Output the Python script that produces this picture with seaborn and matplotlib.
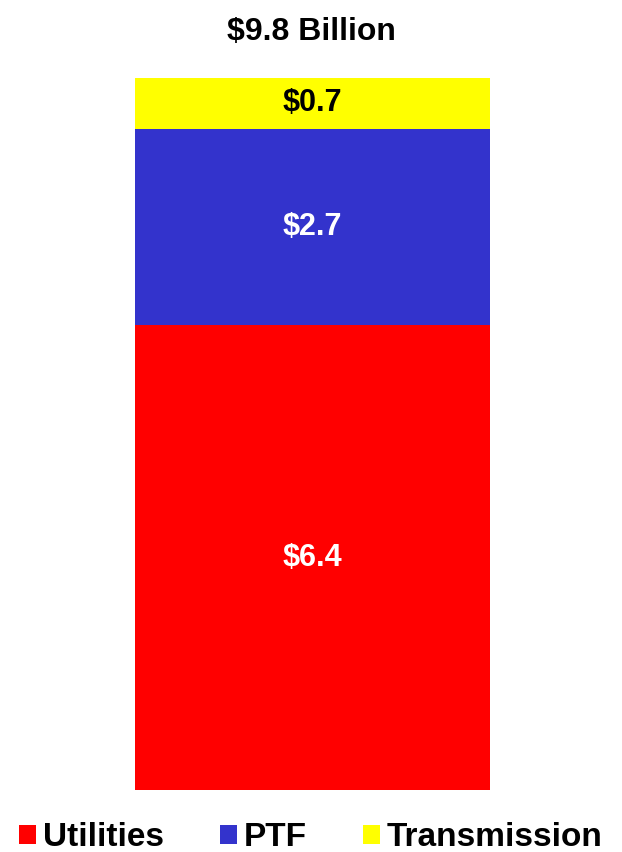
import matplotlib
matplotlib.use("Agg")
import matplotlib.pyplot as plt
import seaborn as sns
import pandas as pd
from matplotlib.patches import Patch

sns.set_theme(style="white")
plt.rcParams['font.family'] = ['Liberation Sans', 'DejaVu Sans']
plt.rcParams['text.color'] = 'black'

segments = ["Utilities", "PTF", "Transmission"]
values = [6.4, 2.7, 0.7]
colors = ["#FF0000", "#3333CC", "#FFFF00"]
label_colors = ["white", "white", "black"]
total_label = "$9.8 Billion"

fig = plt.figure(figsize=(6.22, 8.52), dpi=100)
ax = fig.add_axes([135 / 622, 1 - 790 / 852, 355 / 622, 712 / 852])

bottom = 0.0
for seg, val, col, lc in zip(segments, values, colors, label_colors):
    df = pd.DataFrame({"x": ["total"], "v": [val]})
    sns.barplot(data=df, x="x", y="v", color=col, bottom=bottom, width=1.0,
                ax=ax, saturation=1, linewidth=0)
    ax.text(0, bottom + val / 2, f"\\${val:.1f}", ha="center", va="center",
            color=lc, fontsize=22, fontweight="bold")
    bottom += val

ax.set_xlim(-0.5, 0.5)
ax.set_ylim(0, sum(values))
ax.axis("off")

fig.text(0.5, 1 - 32 / 852, total_label.replace("$", "\\$"), ha="center", va="center",
         fontsize=23, fontweight="bold", color="black")

handles = [Patch(facecolor=c, edgecolor="none") for c in colors]
fig.legend(handles, segments, loc="center", bbox_to_anchor=(0.5, 1 - 838 / 852),
           ncol=3, frameon=False, prop={"size": 24, "weight": "bold"},
           handlelength=0.5, handleheight=0.5, handletextpad=0.2, columnspacing=1.7,
           labelcolor="black")

fig.savefig("out.png", dpi=100)
